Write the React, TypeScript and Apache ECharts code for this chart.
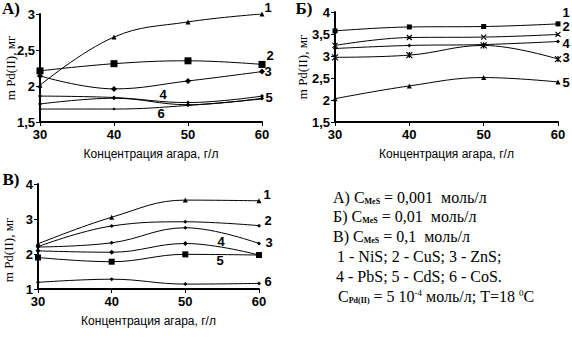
import React, { useEffect, useRef } from "react";
import * as echarts from "echarts";

const xValues = [30, 40, 50, 60];

// Panel А (C_MeS = 0,001 моль/л)
const a1 = [2.01, 2.68, 2.89, 3.0];
const a2 = [2.21, 2.31, 2.35, 2.3];
const a3 = [2.14, 1.96, 2.07, 2.2];
const a4 = [1.86, 1.84, 1.77, 1.86];
const a5 = [1.75, 1.83, 1.74, 1.83];
const a6 = [1.68, 1.68, 1.73, 1.82];

// Panel Б (C_MeS = 0,01 моль/л)
const b1 = [3.57, 3.66, 3.67, 3.73];
const b2 = [3.24, 3.42, 3.43, 3.49];
const b4 = [3.17, 3.24, 3.26, 3.33];
const b3 = [2.97, 3.02, 3.24, 2.93];
const b5 = [2.03, 2.32, 2.51, 2.41];

// Panel В (C_MeS = 0,1 моль/л)
const c1 = [2.29, 3.05, 3.54, 3.52];
const c2 = [2.21, 2.8, 2.92, 2.81];
const c3 = [2.2, 2.32, 2.75, 2.3];
const c4 = [2.09, 2.05, 2.3, 1.97];
const c5 = [1.9, 1.78, 1.99, 1.97];
const c6 = [1.19, 1.28, 1.14, 1.16];

const xTitle = "Концентрация агара, г/л";
const yTitle = "m Pd(II), мг";

const X_MARK = "path://M0,0L10,10L10,10L0,0M10,0L0,10L0,10L10,0";
const STAR_MARK = "path://M0,0L10,10M10,0L0,10M5,0L5,10";

const pair = (ys: number[]) => ys.map((y, i) => [xValues[i], y]);

const mk = (data: number[], idx: number, symbol: string, size: number) => ({
  type: "line",
  xAxisIndex: idx,
  yAxisIndex: idx,
  data: pair(data),
  smooth: 0.4,
  symbol,
  symbolSize: size,
  showSymbol: true,
  lineStyle: { color: "#000", width: 1 },
  itemStyle: { color: "#000", borderColor: "#000", borderWidth: symbol.startsWith("path") ? 1.2 : 0 },
  z: 3,
});

const sans = "'Liberation Sans', Arial, sans-serif";
const serif = "'Liberation Serif', 'Times New Roman', serif";

const fmt = (v: number) => String(v).replace(".", ",");

const xAxisCfg = (idx: number) => ({
  type: "value",
  gridIndex: idx,
  min: 30,
  max: 60,
  interval: 10,
  name: xTitle,
  nameLocation: "middle",
  nameGap: 26,
  nameTextStyle: { fontFamily: sans, fontSize: 12, color: "#000" },
  axisLine: { show: true, onZero: false, lineStyle: { color: "#000", width: 2 } },
  axisTick: { show: true, length: 4, lineStyle: { color: "#000" } },
  axisLabel: { fontFamily: sans, fontWeight: "bold", fontSize: 13, color: "#000", margin: 6 },
  splitLine: { show: false },
});

const yAxisCfg = (idx: number, min: number, max: number, interval: number) => ({
  type: "value",
  gridIndex: idx,
  min,
  max,
  interval,
  axisLine: { show: true, onZero: false, lineStyle: { color: "#000", width: 2 } },
  axisTick: { show: true, length: 4, lineStyle: { color: "#000" } },
  axisLabel: {
    fontFamily: sans,
    fontWeight: "bold",
    fontSize: 13,
    color: "#000",
    margin: 5,
    formatter: (v: number) => fmt(v),
  },
  splitLine: { show: false },
});

const lbl = (text: string, x: number, y: number) => ({
  type: "text",
  x,
  y,
  style: {
    text,
    fontFamily: sans,
    fontWeight: "bold",
    fontSize: 13,
    fill: "#000",
    align: "center",
    verticalAlign: "middle",
  },
});

const panelTitle = (text: string, x: number, y: number) => ({
  type: "text",
  x,
  y,
  style: {
    text,
    fontFamily: serif,
    fontWeight: "bold",
    fontSize: 17,
    fill: "#000",
    align: "center",
    verticalAlign: "middle",
  },
});

const yName = (x: number, y: number) => ({
  type: "text",
  x,
  y,
  rotation: Math.PI / 2,
  style: {
    text: yTitle,
    fontFamily: serif,
    fontSize: 13,
    fill: "#000",
    align: "center",
    verticalAlign: "middle",
  },
});

const rich = {
  t: { fontFamily: serif, fontSize: 16, color: "#000" },
  sub: { fontFamily: serif, fontSize: 8, fontWeight: "bold", color: "#000", verticalAlign: "bottom", padding: [7, 0, 0, 0] },
  sup: { fontFamily: serif, fontSize: 9, color: "#000", verticalAlign: "top", padding: [0, 0, 7, 0] },
};

const infoLine = (text: string, x: number, y: number) => ({
  type: "text",
  x,
  y,
  style: {
    text,
    rich,
    fontFamily: serif,
    fontSize: 16,
    fill: "#000",
    align: "left",
    verticalAlign: "middle",
  },
});

export default function App() {
  const ref = useRef<HTMLDivElement>(null);
  useEffect(() => {
    if (!ref.current) return;
    const chart = echarts.init(ref.current, undefined, { renderer: "svg" });
    chart.setOption({
      animation: false,
      backgroundColor: "#fff",
      grid: [
        { left: 40, top: 14, width: 222, height: 108 },
        { left: 335, top: 12, width: 223, height: 110 },
        { left: 38, top: 184, width: 221, height: 105 },
      ],
      xAxis: [xAxisCfg(0), xAxisCfg(1), xAxisCfg(2)],
      yAxis: [yAxisCfg(0, 1.5, 3, 0.5), yAxisCfg(1, 1.5, 4, 0.5), yAxisCfg(2, 1, 4, 1)],
      series: [
        mk(a1, 0, "triangle", 5),
        mk(a2, 0, "rect", 7),
        mk(a3, 0, "diamond", 6),
        mk(a4, 0, "diamond", 4),
        mk(a5, 0, "diamond", 4),
        mk(a6, 0, "diamond", 3),
        mk(b1, 1, "rect", 5),
        mk(b2, 1, X_MARK, 5),
        mk(b4, 1, "diamond", 4),
        mk(b3, 1, STAR_MARK, 6),
        mk(b5, 1, "triangle", 5),
        mk(c1, 2, "triangle", 5),
        mk(c2, 2, "diamond", 4),
        mk(c3, 2, "diamond", 4),
        mk(c4, 2, "diamond", 5),
        mk(c5, 2, "rect", 6),
        mk(c6, 2, "diamond", 4),
      ],
      graphic: [
        panelTitle("А)", 11, 8),
        panelTitle("Б)", 304, 8),
        panelTitle("В)", 11, 179),
        yName(10, 68),
        yName(302, 67),
        yName(8, 250),
        lbl("1", 268, 7),
        lbl("2", 270, 55),
        lbl("3", 268, 71),
        lbl("4", 163, 94),
        lbl("5", 269, 97),
        lbl("6", 161, 113),
        lbl("1", 566, 12),
        lbl("2", 566, 26),
        lbl("4", 566, 43),
        lbl("3", 566, 57),
        lbl("5", 566, 82),
        lbl("1", 267, 194),
        lbl("2", 268, 220),
        lbl("3", 269, 242),
        lbl("4", 221, 241),
        lbl("5", 220, 260),
        lbl("6", 268, 281),
        infoLine("{t|А) C}{sub|MeS}{t| = 0,001  моль/л}", 333, 197),
        infoLine("{t|Б) C}{sub|MeS}{t| = 0,01  моль/л}", 333, 216),
        infoLine("{t|В) C}{sub|MeS}{t| = 0,1  моль/л}", 333, 236),
        infoLine("{t|1 - NiS; 2 - CuS; 3 - ZnS;}", 337, 256),
        infoLine("{t|4 - PbS; 5 - CdS; 6 - CoS.}", 336, 276),
        infoLine("{t|C}{sub|Pd(II)}{t| = 5 10}{sup|-4}{t| моль/л; T=18 }{sup|0}{t|C}", 338, 296),
      ],
    });
    return () => chart.dispose();
  }, []);
  return (
    <div
      ref={ref}
      style={{ position: "fixed", left: 0, top: 0, width: 572, height: 340, background: "#fff" }}
    />
  );
}
